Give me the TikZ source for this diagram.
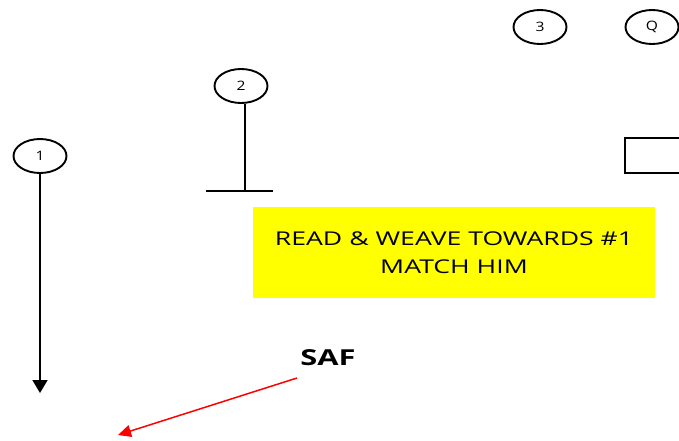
\documentclass[tikz,border=0pt]{standalone}
\usepackage{fontspec}
\setmainfont{Open Sans}
\newfontfamily\widefont[FakeStretch=1.4]{Open Sans}
\newfontfamily\labfont[FakeStretch=1.2]{Open Sans}
\usetikzlibrary{arrows.meta,shapes.geometric}
\definecolor{notefill}{RGB}{255,255,0}
\begin{document}
\begin{tikzpicture}[x=1pt,y=-1pt,
  player/.style={draw,line width=1.9pt,ellipse,minimum width=53pt,minimum height=34pt,inner sep=0pt,font=\labfont\fontsize{13}{14}\selectfont},
  route/.style={line width=1.6pt,-{Triangle[length=13pt,width=15pt]}},
  note/.style={fill=notefill,minimum width=402pt,minimum height=91pt,align=center,font=\widefont\fontsize{19}{28}\selectfont,inner sep=0pt}]
\useasboundingbox (0,0) rectangle (679,440);
\node[player] (p1) at (40,156) {1};
\node[player] (p2) at (241,86) {2};
\node[player] (p3) at (540,27) {3};
\node[player] (pq) at (652,27) {Q};
\draw[line width=1.9pt] (625,138) rectangle (690,173);
\coordinate (e1) at (40,393);
\draw[route] (p1) -- (e1);
\coordinate (t2) at (245,190);
\coordinate (ta) at (206,191);
\coordinate (tb) at (273,191);
\draw[line width=1.2pt] (p2.south -| t2) -- (t2);
\draw[line width=1.2pt] (ta) -- (tb);
\node[note] (box) at (454,252.5) {READ \& WEAVE TOWARDS \#1\\MATCH HIM};
\node[font=\widefont\fontsize{22}{24}\selectfont\bfseries,anchor=center] (saf) at (328,358) {SAF};
\coordinate (s1) at (297,378);
\coordinate (s2) at (118,435);
\draw[red,line width=1.5pt,-{Triangle[length=13pt,width=12pt]}] (s1) -- (s2);
\end{tikzpicture}
\end{document}
